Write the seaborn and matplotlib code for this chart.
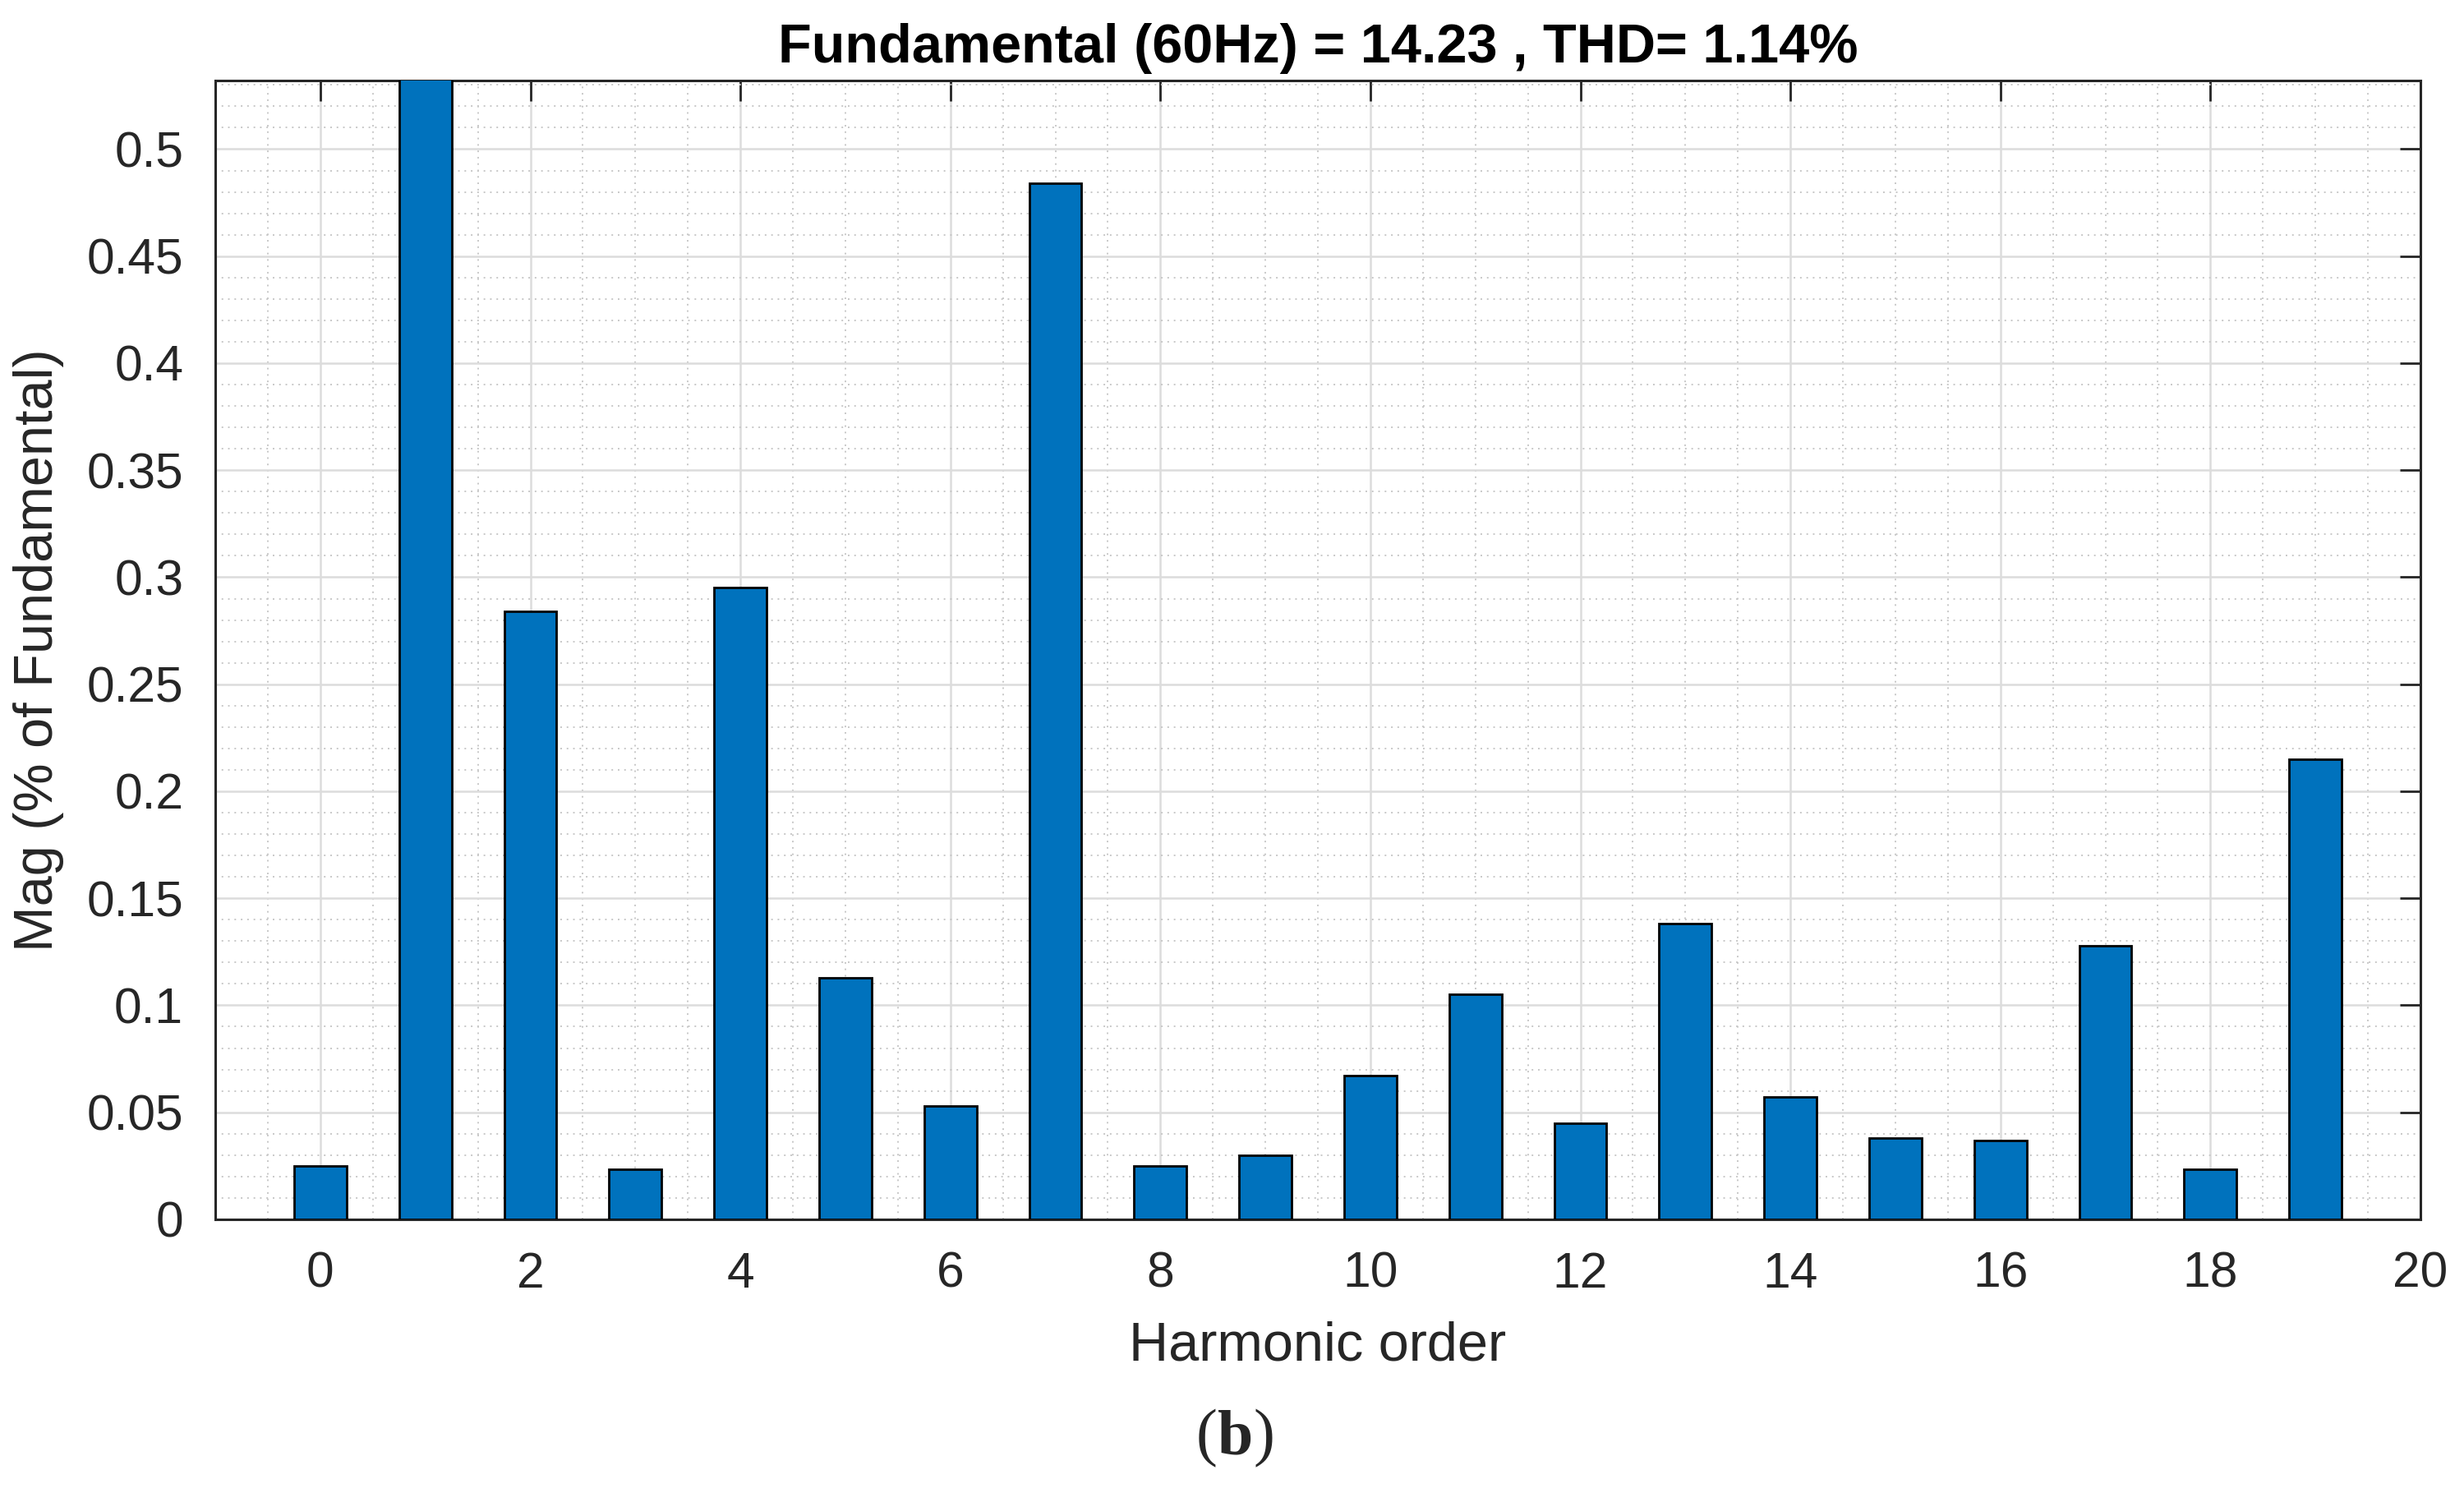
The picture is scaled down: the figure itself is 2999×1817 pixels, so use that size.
import numpy as np
import pandas as pd
import matplotlib
matplotlib.use("Agg")
import matplotlib.pyplot as plt
import seaborn as sns
from matplotlib.ticker import MultipleLocator, FuncFormatter

# data
harmonic_order = list(range(20))
magnitude = [0.025, 100.0, 0.284, 0.0235, 0.295, 0.113, 0.053, 0.484, 0.025, 0.030,
             0.067, 0.105, 0.045, 0.138, 0.057, 0.038, 0.037, 0.128, 0.0235, 0.215]

title_text = "Fundamental (60Hz) = 14.23 , THD= 1.14%"
x_label = "Harmonic order"
y_label = "Mag (% of Fundamental)"

BAR_COLOR = "#0072BD"
TEXT_COLOR = "#262626"

sns.set_style("white")
plt.rcParams["font.family"] = ["Liberation Sans", "DejaVu Sans"]

df = pd.DataFrame({"order": harmonic_order, "mag": magnitude})

fig = plt.figure(figsize=(14.995, 9.085), dpi=200)
ax = fig.add_axes([0.0874, 0.1833, 0.8949, 0.7627])

sns.barplot(
    data=df,
    x="order",
    y="mag",
    native_scale=True,
    width=0.5,
    color=BAR_COLOR,
    saturation=1,
    edgecolor="black",
    linewidth=1.0,
    errorbar=None,
    ax=ax,
    zorder=3,
)

ax.set_xlim(-1, 20)
ax.set_ylim(0, 0.532)

ax.xaxis.set_major_locator(MultipleLocator(2))
ax.xaxis.set_minor_locator(MultipleLocator(0.5))
ax.yaxis.set_major_locator(MultipleLocator(0.05))
ax.yaxis.set_minor_locator(MultipleLocator(0.01))
ax.yaxis.set_major_formatter(FuncFormatter(lambda v, p: "%g" % round(v, 4)))
ax.xaxis.set_major_formatter(FuncFormatter(lambda v, p: "%g" % v))

ax.grid(which="major", color="#dcdcdc", linewidth=0.9, linestyle="-", zorder=0)
ax.grid(which="minor", color="#c8c8c8", linewidth=0.7, linestyle=(0, (1, 3)), zorder=0)
ax.set_axisbelow(True)

ax.tick_params(which="major", direction="in", length=9, width=1.0, top=True, right=True,
               labelsize=21.8, colors=TEXT_COLOR, pad=14)
ax.tick_params(which="minor", length=0)
for side in ["left", "right", "top", "bottom"]:
    ax.spines[side].set_visible(True)
    ax.spines[side].set_color(TEXT_COLOR)
    ax.spines[side].set_linewidth(1.1)

ax.set_xlabel(x_label, fontsize=24, color=TEXT_COLOR, labelpad=10)
ax.set_ylabel(y_label, fontsize=24, color=TEXT_COLOR, labelpad=10)
ax.set_title(title_text, fontsize=24, fontweight="bold", color="black", pad=8)

# panel label "(b)" with bold b, pieced together
label_y = 0.026
t_open = fig.text(0.4855, label_y, "(", fontsize=28, family="Liberation Serif",
                  ha="left", va="baseline")
fig.canvas.draw()
inv = fig.transFigure.inverted()
x1 = inv.transform((t_open.get_window_extent().x1, 0))[0]
t_b = fig.text(x1, label_y, "b", fontsize=28, family="Liberation Serif", fontweight="bold",
               ha="left", va="baseline")
fig.canvas.draw()
x2 = inv.transform((t_b.get_window_extent().x1, 0))[0]
fig.text(x2, label_y, ")", fontsize=28, family="Liberation Serif", ha="left", va="baseline")

fig.savefig("out.png", dpi=200, facecolor="white")
plt.close()
